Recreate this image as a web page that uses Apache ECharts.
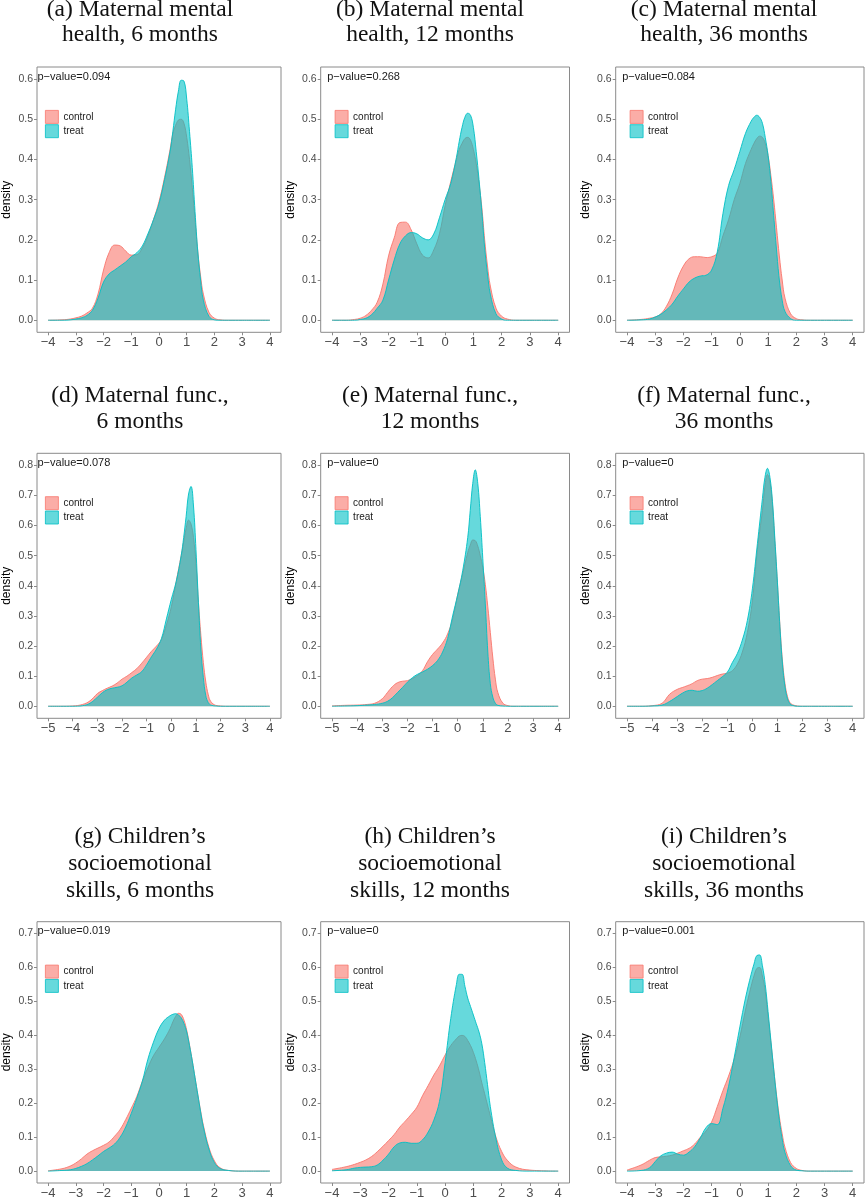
<!DOCTYPE html>
<html><head><meta charset="utf-8">
<script src="https://cdn.jsdelivr.net/npm/echarts@6/dist/echarts.min.js"></script>
<style>html,body{margin:0;padding:0;background:#fff}#c{width:865px;height:1200px}</style>
</head><body><div id="c"></div>
<script>
// ---------- data ----------
// x grid for panels with axis -4..4 (rows 1 and 3)
const X_A = [-4,-3.5,-3.2,-3.0,-2.8,-2.6,-2.4,-2.2,-2.0,-1.8,-1.6,-1.4,-1.2,-1.0,-0.8,-0.6,-0.4,-0.2,0,0.2,0.4,0.5,0.6,0.7,0.8,0.9,1.0,1.1,1.2,1.3,1.4,1.5,1.6,1.8,2.0,2.2,2.5,3.0,4.0];
// x grid for panels with axis -5..4 (row 2)
const X_B = [-5,-4.5,-4,-3.6,-3.3,-3.0,-2.8,-2.6,-2.4,-2.2,-2.0,-1.8,-1.6,-1.4,-1.2,-1.0,-0.8,-0.6,-0.4,-0.2,0,0.2,0.4,0.5,0.6,0.7,0.8,0.9,1.0,1.1,1.2,1.3,1.4,1.5,1.6,1.8,2.0,2.2,2.5,3.0,4.0];

const a_control = [0,0.001,0.003,0.006,0.01,0.018,0.03,0.065,0.125,0.168,0.187,0.185,0.172,0.162,0.163,0.18,0.21,0.25,0.295,0.355,0.425,0.465,0.485,0.498,0.5,0.49,0.455,0.4,0.33,0.25,0.17,0.11,0.065,0.02,0.005,0.001,0,0,0];
const a_treat   = [0,0,0.001,0.003,0.006,0.012,0.025,0.055,0.095,0.115,0.125,0.135,0.145,0.158,0.168,0.185,0.215,0.25,0.29,0.35,0.42,0.47,0.525,0.57,0.597,0.595,0.55,0.47,0.38,0.27,0.17,0.1,0.05,0.01,0.001,0,0,0,0];
const b_control = [0,0,0.002,0.005,0.012,0.025,0.045,0.09,0.16,0.205,0.243,0.244,0.225,0.19,0.162,0.155,0.175,0.215,0.285,0.345,0.4,0.425,0.44,0.452,0.455,0.448,0.425,0.39,0.34,0.28,0.2,0.135,0.085,0.03,0.01,0.003,0,0,0];
const b_treat   = [0,0,0,0.002,0.005,0.014,0.03,0.05,0.1,0.15,0.19,0.21,0.218,0.215,0.205,0.2,0.215,0.255,0.3,0.34,0.405,0.445,0.48,0.505,0.515,0.51,0.48,0.42,0.35,0.27,0.18,0.115,0.065,0.016,0.003,0,0,0,0];
const c_control = [0,0.002,0.005,0.008,0.016,0.035,0.065,0.105,0.135,0.153,0.158,0.158,0.156,0.158,0.167,0.21,0.25,0.3,0.34,0.39,0.425,0.44,0.452,0.458,0.455,0.44,0.41,0.36,0.3,0.23,0.16,0.1,0.055,0.016,0.004,0.001,0,0,0];
const c_treat   = [0,0.001,0.003,0.008,0.015,0.026,0.04,0.06,0.078,0.095,0.105,0.11,0.112,0.125,0.17,0.265,0.335,0.375,0.42,0.465,0.495,0.505,0.51,0.505,0.49,0.455,0.41,0.345,0.26,0.175,0.1,0.05,0.022,0.004,0,0,0,0,0];
const d_control = [0,0,0.001,0.006,0.018,0.042,0.052,0.06,0.067,0.077,0.09,0.1,0.112,0.125,0.143,0.163,0.183,0.2,0.222,0.27,0.33,0.415,0.5,0.545,0.59,0.618,0.605,0.56,0.475,0.345,0.235,0.145,0.08,0.038,0.016,0.003,0.001,0,0,0,0];
const d_treat   = [0,0,0,0.002,0.01,0.03,0.045,0.055,0.06,0.063,0.068,0.08,0.094,0.104,0.115,0.138,0.165,0.19,0.225,0.29,0.355,0.415,0.5,0.56,0.63,0.705,0.73,0.665,0.52,0.345,0.19,0.095,0.035,0.012,0.004,0.001,0,0,0,0,0];
const e_control = [0.001,0.003,0.004,0.006,0.01,0.025,0.045,0.065,0.078,0.083,0.085,0.092,0.102,0.118,0.148,0.172,0.19,0.21,0.24,0.29,0.37,0.44,0.51,0.535,0.552,0.55,0.532,0.5,0.46,0.405,0.33,0.245,0.16,0.09,0.045,0.01,0.002,0,0,0,0];
const e_treat   = [0,0.001,0.002,0.004,0.006,0.01,0.016,0.028,0.045,0.062,0.08,0.095,0.106,0.114,0.123,0.135,0.152,0.18,0.225,0.3,0.37,0.45,0.56,0.65,0.74,0.785,0.74,0.63,0.49,0.34,0.18,0.075,0.03,0.01,0.003,0.001,0,0,0,0,0];
const f_control = [0,0,0.002,0.01,0.04,0.056,0.062,0.068,0.075,0.085,0.09,0.092,0.096,0.102,0.107,0.11,0.118,0.14,0.18,0.245,0.35,0.52,0.65,0.73,0.77,0.745,0.67,0.54,0.405,0.265,0.15,0.075,0.032,0.012,0.005,0.001,0,0,0,0,0];
const f_treat   = [0,0,0.001,0.004,0.016,0.032,0.043,0.051,0.053,0.05,0.052,0.06,0.072,0.085,0.098,0.113,0.145,0.175,0.22,0.285,0.39,0.54,0.69,0.76,0.79,0.76,0.68,0.55,0.41,0.26,0.14,0.065,0.025,0.008,0.003,0,0,0,0,0,0];
const g_control = [0.001,0.007,0.015,0.024,0.036,0.05,0.06,0.068,0.076,0.086,0.103,0.123,0.152,0.185,0.22,0.265,0.305,0.34,0.365,0.39,0.42,0.44,0.456,0.465,0.462,0.445,0.415,0.372,0.325,0.275,0.225,0.178,0.135,0.07,0.03,0.01,0.002,0,0];
const g_treat   = [0,0.002,0.004,0.008,0.014,0.022,0.033,0.045,0.058,0.068,0.08,0.1,0.13,0.17,0.215,0.265,0.33,0.38,0.42,0.445,0.458,0.462,0.464,0.46,0.452,0.435,0.41,0.37,0.325,0.275,0.225,0.175,0.13,0.065,0.025,0.008,0.002,0,0];
const h_control = [0.005,0.013,0.02,0.026,0.033,0.043,0.057,0.073,0.09,0.108,0.13,0.148,0.167,0.188,0.222,0.252,0.283,0.31,0.342,0.37,0.39,0.398,0.4,0.397,0.385,0.37,0.35,0.325,0.295,0.26,0.228,0.195,0.163,0.1,0.058,0.032,0.012,0.003,0];
const h_treat   = [0.001,0.004,0.009,0.011,0.012,0.013,0.018,0.032,0.05,0.072,0.083,0.085,0.082,0.082,0.092,0.115,0.15,0.205,0.32,0.45,0.55,0.58,0.58,0.545,0.51,0.485,0.46,0.435,0.41,0.375,0.32,0.255,0.19,0.095,0.033,0.009,0.002,0,0];
const i_control = [0.003,0.018,0.032,0.04,0.042,0.044,0.047,0.053,0.06,0.067,0.08,0.1,0.118,0.145,0.19,0.237,0.28,0.33,0.395,0.475,0.545,0.575,0.597,0.6,0.575,0.53,0.455,0.38,0.3,0.225,0.16,0.11,0.07,0.025,0.008,0.002,0,0,0];
const i_treat   = [0,0.002,0.01,0.028,0.045,0.053,0.056,0.05,0.047,0.056,0.072,0.098,0.128,0.14,0.137,0.185,0.25,0.335,0.425,0.51,0.58,0.61,0.635,0.637,0.605,0.55,0.47,0.385,0.3,0.22,0.15,0.095,0.055,0.016,0.003,0.001,0,0,0];

const P_VALUES = ["0.094","0.268","0.084","0.078","0","0","0.019","0","0.001"];
const TITLES = [
  ["(a) Maternal mental","health, 6 months"],
  ["(b) Maternal mental","health, 12 months"],
  ["(c) Maternal mental","health, 36 months"],
  ["(d) Maternal func.,","6 months"],
  ["(e) Maternal func.,","12 months"],
  ["(f) Maternal func.,","36 months"],
  ["(g) Children\u2019s","socioemotional","skills, 6 months"],
  ["(h) Children\u2019s","socioemotional","skills, 12 months"],
  ["(i) Children\u2019s","socioemotional","skills, 36 months"]
];
const X_TICKS_WIDE = [-4,-3,-2,-1,0,1,2,3,4];
const X_TICKS_ROW2 = [-5,-4,-3,-2,-1,0,1,2,3,4];
const Y_TICKS_ROW1 = [0,0.1,0.2,0.3,0.4,0.5,0.6];
const Y_TICKS_ROW2 = [0,0.1,0.2,0.3,0.4,0.5,0.6,0.7,0.8];
const Y_TICKS_ROW3 = [0,0.1,0.2,0.3,0.4,0.5,0.6,0.7];
const SERIES_NAMES = ["control","treat"];

// ---------- layout ----------
const COLS = [{l:31,r:281,tc:140},{l:320.7,r:569.5,tc:430},{l:615.7,r:864,tc:724}];
const ROWS = [
  {t:67,b:332.3,xmin:-4.4,xmax:4.4,ymin:-0.03,ymax:0.63,X:X_A,xt:X_TICKS_WIDE,yt:Y_TICKS_ROW1,tm:[9.7,35.3]},
  {t:453.3,b:718.3,xmin:-5.45,xmax:4.45,ymin:-0.04,ymax:0.84,X:X_B,xt:X_TICKS_ROW2,yt:Y_TICKS_ROW2,tm:[396.3,422.3]},
  {t:921.7,b:1186.7,xmin:-4.4,xmax:4.4,ymin:-0.035,ymax:0.735,X:X_A,xt:X_TICKS_WIDE,yt:Y_TICKS_ROW3,tm:[837.3,864,890.7]}
];
const PANEL_DATA = [
  [a_control,a_treat],[b_control,b_treat],[c_control,c_treat],
  [d_control,d_treat],[e_control,e_treat],[f_control,f_treat],
  [g_control,g_treat],[h_control,h_treat],[i_control,i_treat]
];
const COLORS = {control:'#F8766D', treat:'#00BFC4'};
const FILLS = {control:'rgba(248,118,109,0.6)', treat:'rgba(0,191,196,0.6)'};

const grids=[], xAxes=[], yAxes=[], series=[], legends=[], graphics=[];
const fmtX = v => (v<0 ? '\u2212'+Math.abs(v) : String(v));

for (let p=0; p<9; p++){
  const row = ROWS[Math.floor(p/3)], col = COLS[p%3];
  grids.push({left:col.l, top:row.t, width:col.r-col.l, height:row.b-row.t,
    show:true, borderColor:'#8a8a8a', borderWidth:1, backgroundColor:'#fff'});
  xAxes.push({gridIndex:p, type:'value', min:row.xmin, max:row.xmax, position:'bottom',
    axisLine:{show:false, onZero:false}, splitLine:{show:false},
    axisTick:{show:true, customValues:row.xt, length:3, lineStyle:{color:'#8a8a8a'}},
    axisLabel:{customValues:row.xt, formatter:fmtX, fontSize:13, color:'#4d4d4d',
      fontFamily:'Liberation Sans', margin:4}});
  yAxes.push({gridIndex:p, type:'value', min:row.ymin, max:row.ymax, position:'left',
    name:'density', nameLocation:'middle', nameGap:24, nameRotate:90,
    nameTextStyle:{fontSize:12, color:'#000', fontFamily:'Liberation Sans'},
    axisLine:{show:false, onZero:false}, splitLine:{show:false},
    axisTick:{show:true, customValues:row.yt, length:3, lineStyle:{color:'#8a8a8a'}},
    axisLabel:{customValues:row.yt, formatter:v=>v.toFixed(1), fontSize:10.5, color:'#4d4d4d',
      fontFamily:'Liberation Sans', margin:4}});
  SERIES_NAMES.forEach((nm,k)=>{
    const ys = PANEL_DATA[p][k];
    series.push({type:'line', name:nm, xAxisIndex:p, yAxisIndex:p,
      data: row.X.map((x,j)=>[x, ys[j]]),
      smooth:0.4, showSymbol:false, symbol:'none', silent:true,
      lineStyle:{color:COLORS[nm], width:0.9},
      itemStyle:{color:COLORS[nm]},
      areaStyle:{color:COLORS[nm], opacity:0.6, origin:0},
      z:2+k});
  });
  legends.push({orient:'vertical', left:col.l+14, top:row.t+43, padding:0,
    itemWidth:13, itemHeight:13, itemGap:0.5, icon:'rect', selectedMode:false,
    textStyle:{fontSize:10, color:'#1a1a1a', fontFamily:'Liberation Sans', lineHeight:13},
    data: SERIES_NAMES.map(nm=>({name:nm, itemStyle:{color:FILLS[nm], borderColor:COLORS[nm], borderWidth:0.8}}))});
  graphics.push({type:'text', x:col.l+6.5, y:row.t+9.5, z:10,
    style:{text:'p\u2212value='+P_VALUES[p], font:'11px "Liberation Sans"', fill:'#1a1a1a',
      align:'left', verticalAlign:'middle'}});
  TITLES[p].forEach((line,li)=>{
    graphics.push({type:'text', x:col.tc, y:row.tm[li],
      style:{text:line, font:'23.5px "Liberation Serif"', fill:'#111', align:'center', verticalAlign:'middle'}});
  });
}

const chart = echarts.init(document.getElementById('c'), null, {renderer:'canvas'});
chart.setOption({
  animation:false, backgroundColor:'#fff',
  grid:grids, xAxis:xAxes, yAxis:yAxes, series:series, legend:legends, graphic:graphics
});
</script></body></html>
